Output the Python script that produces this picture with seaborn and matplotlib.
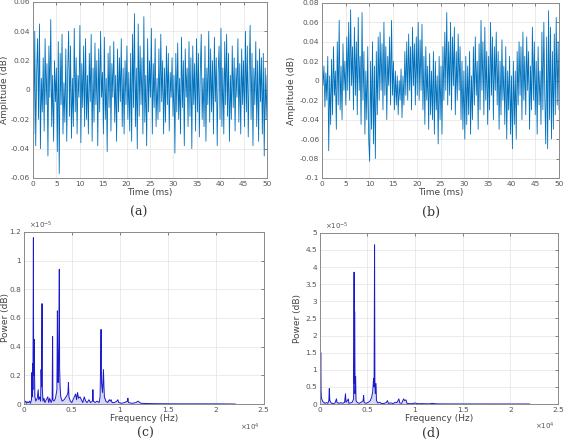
import numpy as np
import pandas as pd
import matplotlib
matplotlib.use('Agg')
import matplotlib.pyplot as plt
from matplotlib.ticker import FuncFormatter, MultipleLocator
import seaborn as sns

# Time-domain signals, values in thousandths (x 1e-3), one sample every 0.2 ms
sig_a = [47, -30, 40, -38, 12, 35, -20, 45, -40, 8, -15, 22, -28, 35, -10, 18, -45, 30, -5, 48, -25, 10, -35, 20, -8,
         15, -42, 33, -57, 25, -10, 38, -30, 5, -22, 28, -35, 12, 40, -18, 30, -33, 8, -25, 42, -15, 22, -30, 10, -5,
         44, -36, 18, -12, 30, -25, 35, -20, 10, -30, 25, -8, 38, -35, 15, -22, 32, -10, 20, -38, 28, -15, 40, -5, 12,
         -30, 36, -20, 8, -42, 25, -12, 30, -28, 18, -5, 33, -22, 10, -35, 28, -15, 22, -8, 35, -25, 15, -30, 20, -10,
         30, -20, 12, -28, 25, -35, 38, -12, 52, -25, 15, -40, 45, -18, 30, -10, 22, -30, 50, -22, 10, -38, 35, -15, 20,
         -5, 42, -30, 18, -12, 35, -25, 8, -20, 28, -15, 38, -8, 20, -30, 15, -22, 30, -10, 25, -28, 12, -5, 22, -18,
         10, -43, 25, -15, 32, -20, 8, -30, 36, -12, 20, -38, 28, -5, 15, -25, 33, -18, 22, -40, 30, -10, 18, -28, 35,
         -15, 25, -32, 12, 38, -20, 8, -25, 30, -35, 15, -10, 40, -22, 28, -15, 20, -30, 36, -8, 22, -38, 12, 30, -20,
         42, -25, 15, -30, 33, -10, 38, -18, 25, -35, 10, -20, 30, -12, 22, -28, 15, -5, 35, -22, 18, -30, 28, -10, 20,
         -25, 40, -15, 30, -32, 12, 44, -20, 25, -38, 15, -10, 33, -25, 20, -35, 28, -8, 22, -30, 25, -45, 15, -20, 10]

sig_b = [28, -5, 15, -27, 8, -20, 25, -72, 5, -45, 22, -35, 35, -15, 10, -50, 40, -25, 62, -30, 15, -40, 38, -10, 20,
         -25, 45, -10, 60, -20, 73, -5, 35, -30, 55, -15, 40, -35, 65, -10, 25, -45, 70, -20, 30, -55, 10, -40, 35, -60,
         -83, 20, -50, 40, -65, 15, -80, 30, -35, 45, -20, 50, -10, 38, -30, 60, -15, 35, -40, 25, -5, 45, -25, 62, -15,
         20, -30, 10, -25, 5, -35, 0, -20, 12, -38, 5, -25, 30, -15, 40, -20, 48, -10, 35, -30, 55, -5, 38, -25, 45,
         -15, 60, -20, 42, -10, 58, -30, 25, -45, 35, -20, 15, -50, 28, -35, 10, -40, 30, -55, 20, -30, 5, -65, 25, -40,
         15, -55, 35, -20, 50, -10, 70, -25, 40, -15, 60, -30, 45, -5, 55, -35, 30, -20, 48, -10, 35, -40, 20, -50, 10,
         -60, 25, -45, 15, -35, 30, -55, 5, -40, 35, -25, 45, -15, 20, -50, 38, -30, 62, -10, 40, -35, 55, -20, 30, -45,
         25, -30, 60, -15, 45, -40, 35, -10, 50, -25, 30, -50, 20, -35, 42, -20, 15, -45, 35, -60, 10, -30, 25, -55, 5,
         -70, 20, -45, 10, -60, 30, -25, 40, -15, 35, -40, 50, -20, 25, -35, 45, -10, 30, -50, 15, -30, 55, -20, 40, -35,
         20, -55, 35, -25, 10, -45, 50, -30, 60, -15, -65, 45, -70, 72, -40, 55, -60, 30, -50, 48, -35, 65, -25, 40, -30]

# Power spectra: frequency in Hz, power in units of 1e-5
spec_c_freq = [0, 100, 200, 300, 400, 500, 600, 700, 800, 850, 880, 920, 950, 1000, 1020, 1050, 1080, 1110, 1150,
               1250, 1400, 1500, 1550, 1650, 1750, 1800, 1850, 1900, 1930, 2000, 2100, 2200, 2350, 2500, 2600, 2700,
               2850, 2950, 3000, 3030, 3150, 3300, 3450, 3500, 3540, 3580, 3650, 3700, 3730, 3780, 3850, 4000, 4200,
               4400, 4500, 4600, 4650, 4700, 4850, 5000, 5200, 5400, 5500, 5600, 5700, 5850, 6000, 6150, 6300, 6450,
               6600, 6800, 6950, 7150, 7200, 7250, 7450, 7650, 7850, 7950, 8000, 8050, 8100, 8200, 8300, 8350, 8400,
               8550, 8750, 8900, 9000, 9100, 9200, 9450, 9700, 9800, 9900, 10200, 10500, 10800, 10850, 10900, 11300,
               11700, 11900, 12000, 12200, 13000, 14000, 16000, 18000, 20000, 22050]
spec_c_pow = [0.02, 0.01, 0.02, 0.005, 0.015, 0.01, 0.02, 0.005, 0.03, 0.22, 0.05, 0.28, 0.1, 1.16, 0.3, 0.2, 0.45,
              0.26, 0.05, 0.02, 0.04, 0.1, 0.03, 0.05, 0.02, 0.24, 0.12, 0.7, 0.1, 0.02, 0.04, 0.01, 0.03, 0.05,
              0.01, 0.04, 0.01, 0.03, 0.47, 0.03, 0.02, 0.04, 0.1, 0.65, 0.3, 0.15, 0.4, 0.94, 0.25, 0.12, 0.05,
              0.02, 0.03, 0.05, 0.06, 0.08, 0.15, 0.05, 0.02, 0.01, 0.04, 0.07, 0.03, 0.08, 0.04, 0.05, 0.03, 0.01,
              0.05, 0.02, 0.01, 0.03, 0.01, 0.02, 0.1, 0.02, 0.01, 0.02, 0.01, 0.05, 0.25, 0.52, 0.15, 0.08, 0.24,
              0.12, 0.05, 0.02, 0.01, 0.03, 0.02, 0.03, 0.01, 0.01, 0.02, 0.03, 0.01, 0.005, 0.01, 0.02, 0.04, 0.01,
              0.005, 0.01, 0.02, 0.015, 0.005, 0.003, 0.002, 0.001, 0.001, 0.001, 0.0]

spec_d_freq = [0, 50, 100, 130, 160, 200, 300, 400, 550, 700, 850, 950, 1000, 1050, 1200, 1400, 1600, 1750, 1800,
               2000, 2200, 2400, 2600, 2700, 2750, 2900, 3000, 3050, 3200, 3400, 3550, 3600, 3630, 3660, 3700, 3760,
               3800, 3950, 4150, 4350, 4550, 4600, 4650, 4850, 5100, 5300, 5450, 5550, 5650, 5700, 5750, 5780, 5820,
               5900, 5950, 6100, 6300, 6500, 6800, 7000, 7100, 7200, 7500, 7700, 7900, 8100, 8300, 8400, 8600, 8800,
               8900, 9050, 9150, 9400, 9700, 10000, 10200, 10800, 11500, 11800, 12200, 13000, 15000, 18000, 20000,
               22050]
spec_d_pow = [0.05, 0.3, 1.5, 0.4, 0.2, 0.15, 0.08, 0.05, 0.02, 0.04, 0.02, 0.1, 0.45, 0.1, 0.03, 0.01, 0.03, 0.15,
              0.05, 0.02, 0.04, 0.02, 0.05, 0.3, 0.05, 0.1, 0.15, 0.02, 0.03, 0.05, 0.15, 3.85, 0.6, 2.7, 0.3, 0.8,
              0.1, 0.04, 0.02, 0.05, 0.1, 0.25, 0.05, 0.02, 0.05, 0.1, 0.2, 0.35, 0.75, 0.5, 4.65, 0.7, 0.3, 0.6,
              0.1, 0.03, 0.05, 0.01, 0.02, 0.05, 0.1, 0.02, 0.03, 0.01, 0.05, 0.04, 0.15, 0.03, 0.02, 0.15, 0.1,
              0.12, 0.02, 0.01, 0.01, 0.03, 0.01, 0.01, 0.005, 0.02, 0.005, 0.003, 0.002, 0.001, 0.001, 0.0]

captions = ['(a)', '(b)', '(c)', '(d)']

sns.set_style('white')
plt.rcParams['font.family'] = ['DejaVu Sans']

fig = plt.figure(figsize=(5.67, 4.4), dpi=100)
ax_a = fig.add_axes([0.058, 0.5955, 0.413, 0.40])
ax_b = fig.add_axes([0.568, 0.5955, 0.418, 0.398])
ax_c = fig.add_axes([0.042, 0.0818, 0.423, 0.391])
ax_d = fig.add_axes([0.564, 0.0818, 0.420, 0.389])


def tick_fmt(v, pos):
    if abs(v) < 1e-9:
        return '0'
    return '%g' % round(v, 6)


fmt = FuncFormatter(tick_fmt)
tick_col = '#555555'
label_col = '#444444'


def style_axes(ax):
    ax.grid(True, color='#e3e3e3', linewidth=0.5)
    ax.set_axisbelow(True)
    for s in ax.spines.values():
        s.set_color('#8a8a8a')
        s.set_linewidth(0.7)
    ax.tick_params(direction='in', top=True, right=True, length=2, width=0.5,
                   labelsize=5.3, colors=tick_col, pad=2)
    ax.xaxis.set_major_formatter(fmt)
    ax.yaxis.set_major_formatter(fmt)


# time axis in ms
t_a = np.arange(len(sig_a)) * 50 / (len(sig_a) - 1)
t_b = np.arange(len(sig_b)) * 50 / (len(sig_b) - 1)
df_a = pd.DataFrame({'t': t_a, 'amp': np.array(sig_a) / 1000})
df_b = pd.DataFrame({'t': t_b, 'amp': np.array(sig_b) / 1000})

sns.lineplot(data=df_a, x='t', y='amp', ax=ax_a, color='#0072BD', linewidth=0.6, estimator=None)
ax_a.set_xlim(0, 50)
ax_a.set_ylim(-0.06, 0.06)
ax_a.xaxis.set_major_locator(MultipleLocator(5))
ax_a.yaxis.set_major_locator(MultipleLocator(0.02))

sns.lineplot(data=df_b, x='t', y='amp', ax=ax_b, color='#0072BD', linewidth=0.6, estimator=None)
ax_b.set_xlim(0, 50)
ax_b.set_ylim(-0.1, 0.08)
ax_b.xaxis.set_major_locator(MultipleLocator(5))
ax_b.yaxis.set_major_locator(MultipleLocator(0.02))

for ax in (ax_a, ax_b):
    style_axes(ax)
    ax.set_xlabel('Time (ms)', fontsize=6.5, color=label_col, labelpad=1)
    ax.set_ylabel('Amplitude (dB)', fontsize=6.5, color=label_col)
ax_a.yaxis.set_label_coords(-0.103, 0.5)
ax_b.yaxis.set_label_coords(-0.11, 0.5)

# spectra, frequency shown in units of 1e4 Hz
df_c = pd.DataFrame({'f': np.array(spec_c_freq) / 1e4, 'p': spec_c_pow})
df_d = pd.DataFrame({'f': np.array(spec_d_freq) / 1e4, 'p': spec_d_pow})

sns.lineplot(data=df_c, x='f', y='p', ax=ax_c, color='#1a1acc', linewidth=0.7, estimator=None)
ax_c.fill_between(df_c['f'], 0, df_c['p'], color='#8080e0', alpha=0.3, linewidth=0)
ax_c.set_xlim(0, 2.5)
ax_c.set_ylim(0, 1.2)
ax_c.yaxis.set_major_locator(MultipleLocator(0.2))

sns.lineplot(data=df_d, x='f', y='p', ax=ax_d, color='#1a1acc', linewidth=0.7, estimator=None)
ax_d.fill_between(df_d['f'], 0, df_d['p'], color='#8080e0', alpha=0.3, linewidth=0)
ax_d.set_xlim(0, 2.5)
ax_d.set_ylim(0, 5)
ax_d.yaxis.set_major_locator(MultipleLocator(0.5))

for ax in (ax_c, ax_d):
    style_axes(ax)
    ax.xaxis.set_major_locator(MultipleLocator(0.5))
    ax.set_xlabel('Frequency (Hz)', fontsize=6.5, color=label_col, labelpad=1)
    ax.set_ylabel('Power (dB)', fontsize=6.5, color=label_col)
    ax.text(0.02, 1.005, r'$\times10^{-5}$', transform=ax.transAxes, fontsize=5,
            color=tick_col, ha='left', va='bottom')
    ax.text(0.985, -0.1, r'$\times10^{4}$', transform=ax.transAxes, fontsize=5,
            color=tick_col, ha='right', va='top')
ax_c.yaxis.set_label_coords(-0.058, 0.5)
ax_d.yaxis.set_label_coords(-0.075, 0.5)

# panel captions
cap_kw = dict(fontsize=9, family='DejaVu Serif', ha='center', color='#333333')
fig.text(0.245, 0.518, captions[0], va='center', **cap_kw)
fig.text(0.760, 0.518, captions[1], va='center', **cap_kw)
fig.text(0.256, 0.001, captions[2], va='bottom', **cap_kw)
fig.text(0.760, 0.001, captions[3], va='bottom', **cap_kw)

fig.savefig('out.png', dpi=100)
